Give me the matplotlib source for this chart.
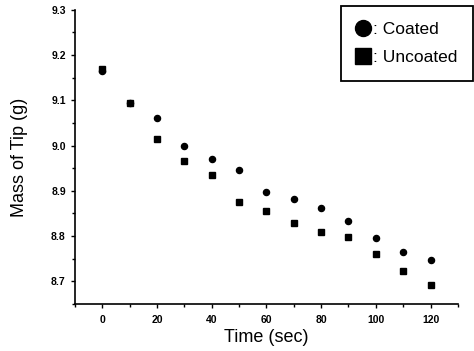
import matplotlib
matplotlib.use("Agg")
import matplotlib.pyplot as plt
from matplotlib.ticker import MultipleLocator, FormatStrFormatter
from matplotlib.lines import Line2D

time_sec = [0, 10, 20, 30, 40, 50, 60, 70, 80, 90, 100, 110, 120]
coated = [9.165, 9.095, 9.060, 8.998, 8.970, 8.947, 8.897, 8.881, 8.861, 8.833, 8.796, 8.764, 8.747]
uncoated = [9.170, 9.093, 9.014, 8.966, 8.936, 8.876, 8.856, 8.828, 8.808, 8.799, 8.761, 8.722, 8.691]
legend_labels = [': Coated', ': Uncoated']

plt.rcParams['font.family'] = ['Liberation Sans', 'DejaVu Sans']

fig = plt.figure(figsize=(4.74, 3.51), dpi=100)
ax = fig.add_axes([0.158, 0.134, 0.808, 0.838])

ax.plot(time_sec, coated, linestyle='none', marker='o', color='black', markersize=4.4)
ax.plot(time_sec, uncoated, linestyle='none', marker='s', color='black', markersize=4.1)

ax.set_xlim(-10, 130)
ax.set_ylim(8.65, 9.3)
ax.xaxis.set_major_locator(MultipleLocator(20))
ax.xaxis.set_minor_locator(MultipleLocator(10))
ax.yaxis.set_major_locator(MultipleLocator(0.1))
ax.yaxis.set_minor_locator(MultipleLocator(0.05))
ax.yaxis.set_major_formatter(FormatStrFormatter('%.1f'))

for s in ['top', 'right']:
    ax.spines[s].set_visible(False)
for s in ['left', 'bottom']:
    ax.spines[s].set_linewidth(1.2)

ax.tick_params(axis='both', which='major', direction='out', length=3, width=1, labelsize=7.5)
ax.tick_params(axis='both', which='minor', direction='out', length=2, width=1)
ax.tick_params(axis='x', pad=5)
for lab in ax.get_xticklabels() + ax.get_yticklabels():
    lab.set_fontweight('bold')

ax.set_xlabel('Time (sec)', fontsize=13, labelpad=3)
ax.set_ylabel('Mass of Tip (g)', fontsize=13, labelpad=17)

handles = [Line2D([], [], linestyle='none', marker='o', color='black', markersize=11.5),
           Line2D([], [], linestyle='none', marker='s', color='black', markersize=11.5)]
leg = fig.legend(handles, legend_labels, loc='upper right',
                 bbox_to_anchor=(473 / 474, 1 - 6 / 351), bbox_transform=fig.transFigure,
                 fontsize=12.5, frameon=True, fancybox=False, framealpha=1,
                 edgecolor='black', handlelength=0.8, handletextpad=0.15,
                 borderpad=0.9, labelspacing=0.75, borderaxespad=0)
leg.get_frame().set_linewidth(1.3)

fig.savefig('out.png', dpi=100)
